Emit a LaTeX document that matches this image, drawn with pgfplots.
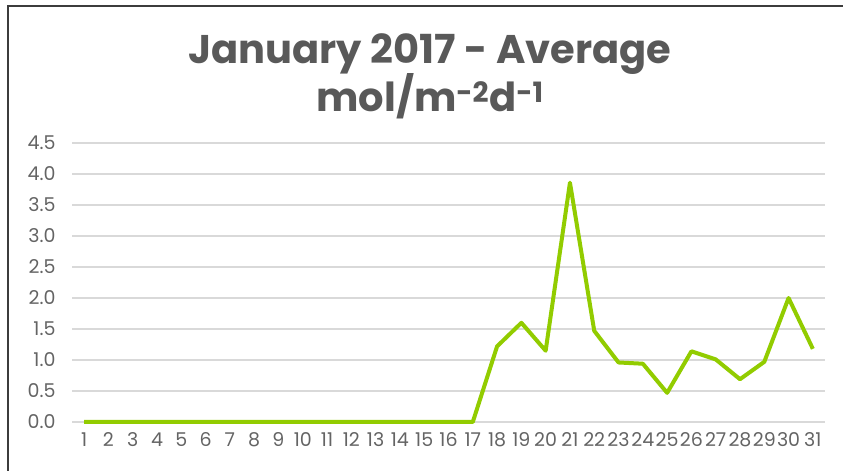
\documentclass[border=0pt]{standalone}
\usepackage{pgfplots}
\pgfplotsset{compat=1.18}
\usepackage{fontspec}
\setmainfont{Poppins}
\definecolor{linegreen}{RGB}{146,204,0}
\definecolor{txtgray}{RGB}{89,89,89}
\definecolor{tickgray}{RGB}{100,100,100}
\definecolor{gridgray}{RGB}{217,217,217}
\definecolor{framegray}{RGB}{60,60,60}
\begin{document}
\begin{tikzpicture}
\path[use as bounding box] (0pt,0pt) rectangle (843pt,471pt);
\draw[framegray, line width=1.5pt] (8pt,0pt) -- (8pt,465pt) -- (843pt,465pt);
\node[font=\bfseries\fontsize{40}{48}\selectfont, text=txtgray, anchor=base, inner sep=0pt] at (430pt,407pt)
  {January 2017 - Average};
\node[font=\bfseries\fontsize{40}{48}\selectfont, text=txtgray, anchor=base, inner sep=0pt] at (430pt,359pt)
  {mol/m\textsuperscript{-2}d\textsuperscript{-1}};
\begin{axis}[
  at={(72pt,49pt)}, anchor=south west,
  scale only axis, width=753pt, height=279pt,
  xmin=0.5, xmax=31.5, ymin=0, ymax=4.5,
  axis line style={draw=none},
  tick style={draw=none},
  xtick={1,...,31},
  ytick={0,0.5,...,4.5},
  ymajorgrids, major grid style={gridgray, line width=1.3pt},
  ticklabel style={font=\fontsize{19}{22}\selectfont, text=tickgray},
  yticklabel style={/pgf/number format/.cd, fixed, fixed zerofill, precision=1, assume math mode=true},
  xticklabel style={/pgf/number format/assume math mode=true, inner xsep=0pt},
  xticklabel shift=7pt, yticklabel shift=13pt,
  clip=false,
]
\addplot[linegreen, line width=4pt, line join=round] coordinates {
(1,0) (2,0) (3,0) (4,0) (5,0) (6,0) (7,0) (8,0) (9,0) (10,0)
(11,0) (12,0) (13,0) (14,0) (15,0) (16,0) (17,0)
(18,1.22) (19,1.60) (20,1.15) (21,3.86) (22,1.47) (23,0.96) (24,0.94)
(25,0.47) (26,1.14) (27,1.01) (28,0.69) (29,0.97) (30,2.00) (31,1.18)
};
\end{axis}
\end{tikzpicture}
\end{document}
